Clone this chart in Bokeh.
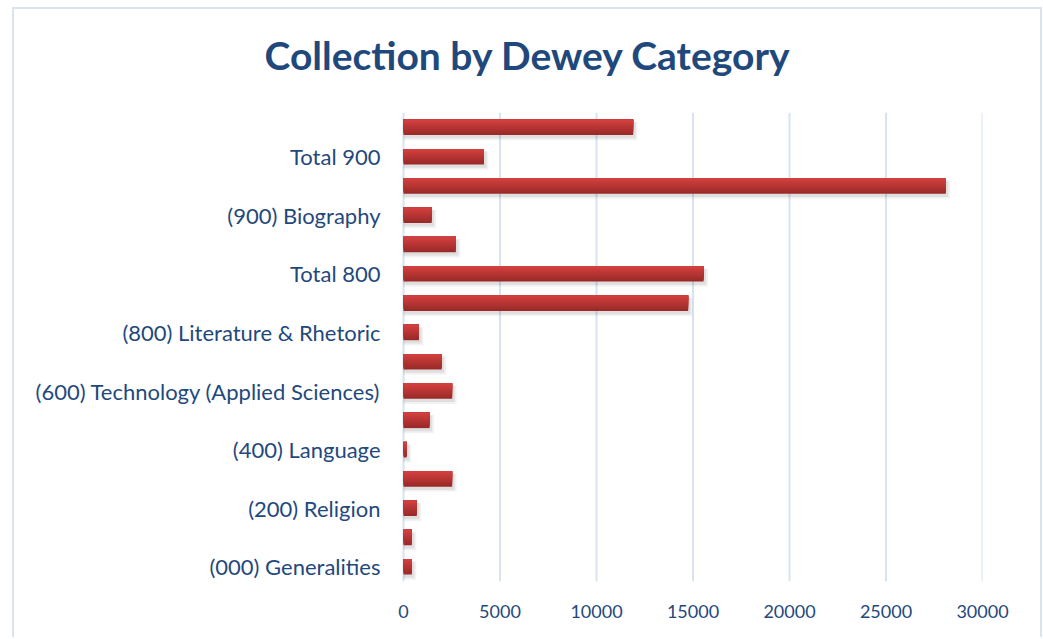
from bokeh.plotting import figure
from bokeh.models import FixedTicker, Range1d
from bokeh.embed import file_html
from bokeh.resources import INLINE
from bokeh.core.properties import value

# ---- data (bottom to top) ----
labels = ["(000) Generalities", "", "(200) Religion", "", "(400) Language", "",
          "(600) Technology (Applied Sciences)", "", "(800) Literature & Rhetoric", "",
          "Total 800", "", "(900) Biography", "", "Total 900", ""]
counts = [430, 430, 690, 2520, 170, 1350, 2520, 1980, 800, 14750,
          15550, 2710, 1460, 28100, 4170, 11900]
x_ticks = [0, 5000, 10000, 15000, 20000, 25000, 30000]
title_text = "Collection by Dewey Category"

positions = list(range(len(counts)))
n = len(counts)

FONT = "Lato"
TEXT_BLUE = "#1f497d"
GRID_BLUE = "#d7e3f2"

# layout (pixels, relative to the canvas)
W, H = 1030, 630
PLOT_LEFT_PX = 389                 # where value 0 sits
PLOT_W_PX = 579                    # from 0 to the last tick
B_RIGHT, B_BOTTOM = W - PLOT_LEFT_PX - PLOT_W_PX, 58
CAT_PX = 29.3                      # height of one category band
frame_h = H - B_BOTTOM
x_max = x_ticks[-1]
u_per_px = x_max / PLOT_W_PX
x_lo = -PLOT_LEFT_PX * u_per_px
y_lo = -0.5
y_hi = y_lo + frame_h / CAT_PX

p = figure(width=W, height=H, output_backend="svg", toolbar_location=None,
           x_range=Range1d(x_lo, x_max), y_range=Range1d(y_lo, y_hi),
           min_border_left=0, min_border_right=B_RIGHT, min_border_top=0,
           min_border_bottom=B_BOTTOM)
p.styles = {"margin-left": "12px", "margin-top": "7px",
            "border": "2px solid #d8e4f2", "border-bottom": "none"}
p.outline_line_color = None
p.background_fill_color = "white"
p.border_fill_color = "white"
p.yaxis.visible = False

# grid lines drawn only over the category area
p.xgrid.grid_line_color = None
p.ygrid.grid_line_color = None
p.segment(x0=x_ticks, x1=x_ticks, y0=[y_lo] * len(x_ticks),
          y1=[n - 0.5] * len(x_ticks), line_color=GRID_BLUE, line_width=2)

# shadow layers
p.hbar(y=[v - 0.13 for v in positions], right=[c + 230 for c in counts], left=0,
       height=0.62, color="#000000", alpha=0.05, line_color=None)
p.hbar(y=[v - 0.1 for v in positions], right=[c + 130 for c in counts], left=0,
       height=0.55, color="#000000", alpha=0.08, line_color=None)

# gradient bars: stacked layers anchored at the bar top, lighter towards top
bar_h = 0.53
n_layers = 10
top_rgb = (0xd3, 0x41, 0x3f)
bot_rgb = (0x9a, 0x2a, 0x29)
for k in range(n_layers):
    frac = 1 - k / n_layers
    t = k / (n_layers - 1)
    r = int(bot_rgb[0] + (top_rgb[0] - bot_rgb[0]) * t)
    g = int(bot_rgb[1] + (top_rgb[1] - bot_rgb[1]) * t)
    b = int(bot_rgb[2] + (top_rgb[2] - bot_rgb[2]) * t)
    h = bar_h * frac
    p.hbar(y=[v + bar_h / 2 - h / 2 for v in positions], right=counts, left=0,
           height=h, color="#%02x%02x%02x" % (r, g, b), line_color=None)

# category labels (every other category is labelled, as in the original)
tick_pos = [i for i, l in enumerate(labels) if l]
p.text(x=[-23 * u_per_px] * len(tick_pos), y=tick_pos,
       text=[labels[i] for i in tick_pos], text_align="right",
       text_baseline="middle", text_font=value(FONT), text_font_size="22px",
       text_color=TEXT_BLUE)

# title (inside the frame's upper area)
p.text(x=[124.5 * u_per_px], y=[y_lo + 527 / CAT_PX],
       text=[title_text], text_align="center", text_baseline="alphabetic",
       text_font=value(FONT), text_font_style="bold", text_font_size="39px",
       text_color=TEXT_BLUE)

# x axis
p.xaxis.ticker = FixedTicker(ticks=x_ticks)
p.xaxis.axis_line_color = None
p.xaxis.major_tick_line_color = None
p.xaxis.minor_tick_line_color = None
p.xaxis.major_label_text_font = FONT
p.xaxis.major_label_text_color = TEXT_BLUE
p.xaxis.major_label_text_font_size = "18px"
p.xaxis.major_label_standoff = 17

open("out.html", "w").write(file_html(p, INLINE))
